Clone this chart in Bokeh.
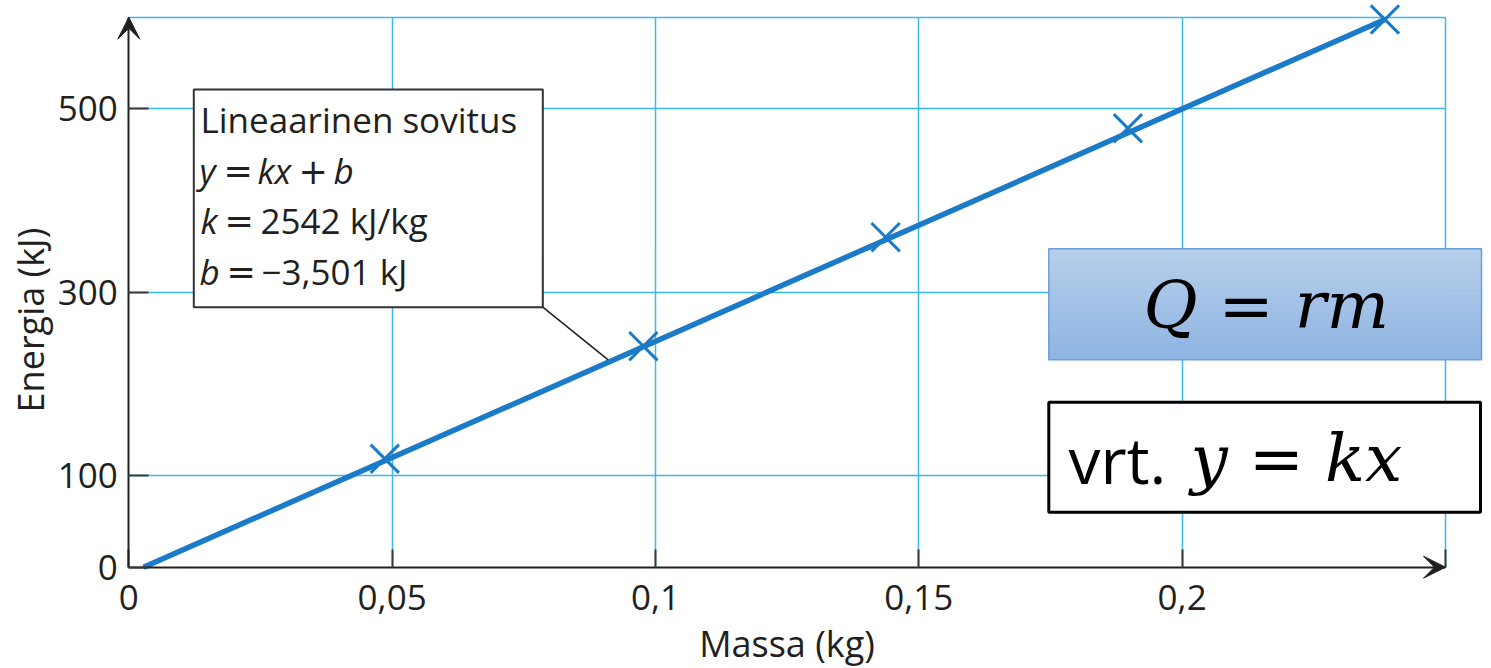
import math
from bokeh.plotting import figure
from bokeh.models import (Range1d, FixedTicker, CustomJSTickFormatter, Label, LinearAxis,
                          BoxAnnotation, Arrow, VeeHead, Grid)
from bokeh.embed import file_html
from bokeh.resources import INLINE

# ---------------- data ----------------
mass = [0.0486, 0.0977, 0.1437, 0.1897, 0.2385]        # kg
energy = [118.3, 241.1, 360.0, 478.9, 597.5]           # kJ
fit_x = [0.0028, 0.2385]
fit_y = [0.0, 597.5]
x_ticks = [0, 0.05, 0.1, 0.15, 0.2, 0.25]
y_ticks = [0, 100, 300, 500]
x_grid = [0.05, 0.1, 0.15, 0.2, 0.25]
y_grid = [100, 300, 500, 600]
x_title = "Massa (kg)"
y_title = "Energia (kJ)"
fit_title = "Lineaarinen sovitus"

# ---------------- layout constants ----------------
W, H = 1491, 668
X_MAX, Y_MAX = 0.25, 600
AX_L, AX_B, AX_R, AX_T = 128.3, 566.7, 1445.0, 16.7     # axis box on the page (px)
SX = X_MAX / (AX_R - AX_L)
SY = Y_MAX / (AX_B - AX_T)
BASE_FIX = 0.36    # text baseline correction (fraction of font size)

def px2x(px):
    return (px - AX_L) * SX

def py2y(py):
    return (AX_B - py) * SY

INK = "#231F20"
GRID = "#3BB8EE"
BLUE = "#1B7BC8"
FONT = "Open Sans"
SYM = "DejaVu Sans"
MATH = "DejaVu Serif"

p = figure(width=W, height=H, frame_width=W, frame_height=H,
           min_border=0, min_border_left=0, min_border_right=0,
           min_border_top=0, min_border_bottom=0,
           x_range=Range1d(px2x(0), px2x(W)), y_range=Range1d(py2y(H), py2y(0)),
           x_axis_location=None, y_axis_location=None,
           output_backend="svg", toolbar_location=None, tools="")

p.background_fill_color = "white"
p.border_fill_color = "white"
p.outline_line_color = None
p.center = [r for r in p.center if not isinstance(r, Grid)]

# grids (top and right border are grid lines at 600 and 0.25)
p.add_layout(Grid(dimension=0, ticker=FixedTicker(ticks=x_grid), cross_bounds=(0, Y_MAX),
                  grid_line_color=GRID, grid_line_width=1.5))
p.add_layout(Grid(dimension=1, ticker=FixedTicker(ticks=y_grid), cross_bounds=(0, X_MAX),
                  grid_line_color=GRID, grid_line_width=1.5))

# axes fixed at the data origin (so they take no panel space)
xa = LinearAxis(fixed_location=0, bounds=(0, X_MAX), ticker=FixedTicker(ticks=x_ticks))
ya = LinearAxis(fixed_location=0, bounds=(0, Y_MAX), ticker=FixedTicker(ticks=y_ticks))
p.add_layout(xa, "below")
p.add_layout(ya, "left")

xa.formatter = CustomJSTickFormatter(code="""
    if (Math.abs(tick) < 1e-9) return "0";
    if (tick > 0.245) return "";
    return (Math.round(tick*100)/100).toString().replace(".", ",");
""")
ya.formatter = CustomJSTickFormatter(code="return Math.round(tick).toString();")
for ax in (xa, ya):
    ax.axis_line_color = INK
    ax.axis_line_width = 2
    ax.major_tick_line_color = "#3a3a3a"
    ax.major_tick_line_width = 2
    ax.major_tick_out = 0
    ax.minor_tick_line_color = None
    ax.major_label_text_font = FONT
    ax.major_label_text_font_size = "35px"
    ax.major_label_text_color = INK
xa.major_tick_in = 18
ya.major_tick_in = 20
xa.major_label_standoff = 18
ya.major_label_standoff = 11

xa.axis_label = x_title
xa.axis_label_text_font = FONT
xa.axis_label_text_font_size = "36px"
xa.axis_label_text_font_style = "normal"
xa.axis_label_text_color = INK
xa.axis_label_standoff = 5

# label-only axis for the y title (centred a bit below the middle, as in the original)
ya2 = LinearAxis(fixed_location=0, bounds=(0, 540), ticker=FixedTicker(ticks=[]),
                 axis_line_color=None, major_tick_line_color=None, minor_tick_line_color=None,
                 major_label_text_font_size="0px", major_label_standoff=0,
                 axis_label=y_title, axis_label_text_font=FONT, axis_label_text_font_size="36px",
                 axis_label_text_font_style="normal", axis_label_text_color=INK,
                 axis_label_standoff=74)
p.add_layout(ya2, "left")

# axis arrows
p.add_layout(Arrow(x_start=0, y_start=0, x_end=X_MAX, y_end=0, line_alpha=0,
                   end=VeeHead(size=22, fill_color=INK, line_color=INK, line_width=1)))
p.add_layout(Arrow(x_start=0, y_start=0, x_end=0, y_end=Y_MAX, line_alpha=0,
                   end=VeeHead(size=22, fill_color=INK, line_color=INK, line_width=1)))

# data
p.line(fit_x, fit_y, line_width=5.5, line_color=BLUE)
p.scatter(mass, energy, marker="x", size=40, line_width=3, line_color=BLUE)


def text(txt, px, py, size, font=FONT, style="normal", color=INK):
    p.add_layout(Label(x=px2x(px), y=py2y(py - BASE_FIX * size), text=txt, text_align="left",
                       text_baseline="alphabetic", text_font=font, text_font_size=f"{size}px",
                       text_font_style=style, text_color=color))


# fit info box
p.add_layout(BoxAnnotation(left=px2x(193.3), right=px2x(542.3), top=py2y(89), bottom=py2y(306.7),
                           fill_color="white", fill_alpha=1, line_color="#333333",
                           line_alpha=1, line_width=2))
p.add_layout(Arrow(x_start=px2x(542.3), y_start=py2y(306.7), x_end=px2x(607.7), y_end=py2y(359.3),
                   end=None, line_color="#222222", line_width=1.6))

FS = 35
text(fit_title, 200, 131.7, FS)
# line 2: y = kx + b
text("y", 199, 182.7, FS, style="italic")
text("=", 223, 182.7, FS, font=SYM)
text("kx", 257, 182.7, FS, style="italic")
text("+", 298, 182.7, FS, font=SYM)
text("b", 333, 182.7, FS, style="italic")
# line 3: k = 2542 kJ/kg
text("k", 200, 233, FS, style="italic")
text("=", 224, 233, FS, font=SYM)
text("2542 kJ/kg", 260, 233, FS)
# line 4: b = -3,501 kJ
text("b", 199, 284, FS, style="italic")
text("=", 226, 284, FS, font=SYM)
text("\u22123,501 kJ", 261, 284, FS)

# Q = rm box with vertical gradient
top_c = (0xB6, 0xCF, 0xEB)
bot_c = (0x8E, 0xB4, 0xE2)
qt, qb, ql, qr = 248.3, 359.3, 1048.3, 1481.0
n = 30
for i in range(n):
    t = i / (n - 1)
    c = tuple(int(round(a + (b - a) * t)) for a, b in zip(top_c, bot_c))
    y0 = qt + (qb - qt) * i / n
    y1 = min(qt + (qb - qt) * (i + 1) / n + 0.6, qb)
    p.add_layout(BoxAnnotation(left=px2x(ql), right=px2x(qr), top=py2y(y0), bottom=py2y(y1),
                               fill_color="#%02x%02x%02x" % c, fill_alpha=1, line_alpha=0))
p.add_layout(BoxAnnotation(left=px2x(ql), right=px2x(qr), top=py2y(qt), bottom=py2y(qb),
                           fill_alpha=0, line_color="#6E9ED6", line_alpha=1, line_width=1.5))
text("Q = rm", 1143, 328.3, 66, font=MATH, style="italic", color="black")

# vrt. y = kx box
p.add_layout(BoxAnnotation(left=px2x(1048.3), right=px2x(1480), top=py2y(401.7), bottom=py2y(511.7),
                           fill_color="white", fill_alpha=1, line_color="black",
                           line_alpha=1, line_width=3))
text("vrt.", 1068, 481.7, 64, color="black")
text("y = kx", 1190, 481.7, 66, font=MATH, style="italic", color="black")

open("out.html", "w").write(file_html(p, INLINE))
